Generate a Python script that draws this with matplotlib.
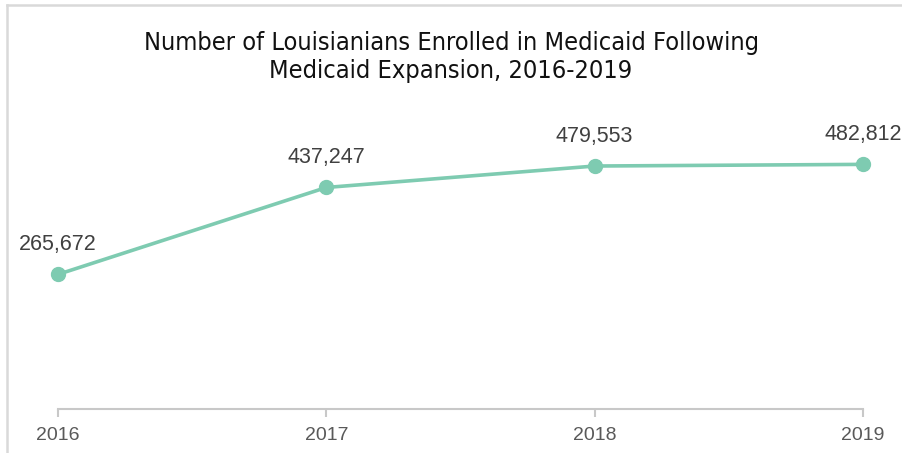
import matplotlib.pyplot as plt
from matplotlib.lines import Line2D

years = [2016, 2017, 2018, 2019]
enrolled = [265672, 437247, 479553, 482812]
year_labels = ["2016", "2017", "2018", "2019"]

green = "#7ecbb1"

fig = plt.figure(figsize=(9.02, 4.53), dpi=100)
ax = fig.add_axes([58 / 902, 44 / 453, (863 - 58) / 902, 304 / 453])

ax.plot(years, enrolled, color=green, lw=2.6, marker="o", ms=10,
        clip_on=False, zorder=3)
for x, y in zip(years, enrolled):
    ax.annotate(f"{y:,}", (x, y), xytext=(0, 14), textcoords="offset points",
                ha="center", va="bottom", fontsize=15.5, color="#404040",
                family="Liberation Sans", annotation_clip=False)

ax.set_xlim(2016, 2019)
ax.set_ylim(0, 600000)
ax.set_xticks(years)
ax.set_xticklabels(year_labels, fontsize=14, color="#595959",
                   family="Liberation Sans")
ax.set_yticks([])
for side in ["left", "right", "top"]:
    ax.spines[side].set_visible(False)
ax.spines["bottom"].set_color("#c8c8c8")
ax.spines["bottom"].set_linewidth(1.5)
ax.tick_params(axis="x", length=6, width=1.5, color="#c8c8c8", pad=7)

fig.text(0.5, 1 - 57 / 453,
         "Number of Louisianians Enrolled in Medicaid Following\nMedicaid Expansion, 2016-2019",
         ha="center", va="center", fontsize=18.2, linespacing=1.2,
         family="DejaVu Sans", stretch="condensed", color="#111111")

# chart frame edges
fig.add_artist(Line2D([6.5 / 902, 6.5 / 902], [0, 1 - 5 / 453], color="#d9d9d9", lw=1.8))
fig.add_artist(Line2D([6.5 / 902, 1], [1 - 5 / 453, 1 - 5 / 453], color="#d9d9d9", lw=1.8))

fig.savefig("out.png", dpi=100, facecolor="white")
